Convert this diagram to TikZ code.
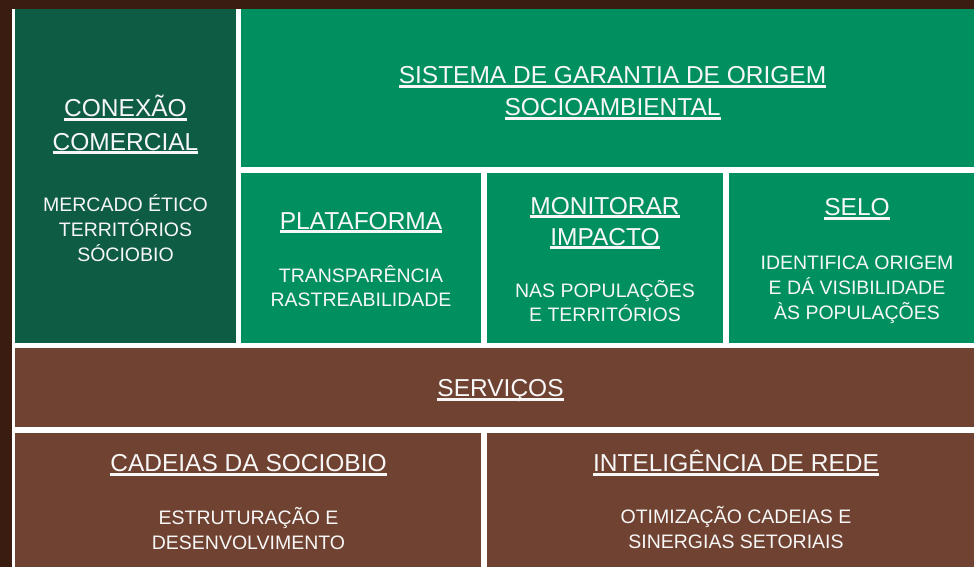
\documentclass[tikz,border=0pt]{standalone}
\usepackage{fontspec}
\setmainfont{Liberation Sans}
\definecolor{bgbrown}{HTML}{3A1C10}
\definecolor{dkgreen}{HTML}{0F5C45}
\definecolor{brgreen}{HTML}{00905F}
\definecolor{boxbrown}{HTML}{704231}
\definecolor{txt}{HTML}{F7F7F7}
\newsavebox\hdbox
\newcommand{\hdul}[1]{\sbox\hdbox{#1}\rlap{\vrule height -1.3pt depth 4pt width \wd\hdbox}\usebox\hdbox}
\tikzset{
  hd/.style={font=\fontsize{24.5}{30}\selectfont, text=txt, anchor=base, inner sep=0pt},
  sb/.style={font=\fontsize{19.5}{24}\selectfont, text=txt, anchor=base, inner sep=0pt},
}
\begin{document}
\begin{tikzpicture}[x=1pt,y=-1pt]
\useasboundingbox (0,0) rectangle (974,567);
\fill[bgbrown] (0,0) rectangle (974,567);
\fill[white] (12,9) rectangle (974,567);
% boxes
\fill[dkgreen] (15,9) rectangle (236,342.5);
\fill[brgreen] (241,9) rectangle (974,167);
\fill[brgreen] (241,172.5) rectangle (481,342.5);
\fill[brgreen] (487,172.5) rectangle (723,342.5);
\fill[brgreen] (729,172.5) rectangle (974,342.5);
\fill[boxbrown] (15,348) rectangle (974,427);
\fill[boxbrown] (15,433) rectangle (481,567);
\fill[boxbrown] (487,433) rectangle (974,567);
% Conexao comercial
\node[hd] (conH1) at (125.5,116.7) {\hdul{CONEXÃO}};
\node[hd] (conH2) at (125.5,150) {\hdul{COMERCIAL}};
\node[sb] (conS1) at (125.5,211.5) {MERCADO ÉTICO};
\node[sb] (conS2) at (125.5,236.5) {TERRITÓRIOS};
\node[sb] (conS3) at (125.5,261) {SÓCIOBIO};
% Sistema
\node[hd] (sisH1) at (612.5,84) {\hdul{SISTEMA DE GARANTIA DE ORIGEM}};
\node[hd] (sisH2) at (612.5,116) {\hdul{SOCIOAMBIENTAL}};
% Plataforma
\node[hd] (plaH) at (361,229) {\hdul{PLATAFORMA}};
\node[sb] (plaS1) at (361,282.3) {TRANSPARÊNCIA};
\node[sb] (plaS2) at (361,306.7) {RASTREABILIDADE};
% Monitorar
\node[hd] (monH1) at (605,214) {\hdul{MONITORAR}};
\node[hd] (monH2) at (605,245) {\hdul{IMPACTO}};
\node[sb] (monS1) at (605,297.3) {NAS POPULAÇÕES};
\node[sb] (monS2) at (605,321.7) {E TERRITÓRIOS};
% Selo
\node[hd] (selH) at (857,215.7) {\hdul{SELO}};
\node[sb] (selS1) at (857,269) {IDENTIFICA ORIGEM};
\node[sb] (selS2) at (857,294.3) {E DÁ VISIBILIDADE};
\node[sb] (selS3) at (857,319.3) {ÀS POPULAÇÕES};
% Servicos
\node[hd] (serH) at (500.5,396.7) {\hdul{SERVIÇOS}};
% Cadeias
\node[hd] (cadH) at (248.5,471.7) {\hdul{CADEIAS DA SOCIOBIO}};
\node[sb] (cadS1) at (248.5,524.3) {ESTRUTURAÇÃO E};
\node[sb] (cadS2) at (248.5,549) {DESENVOLVIMENTO};
% Inteligencia
\node[hd] (intH) at (736,471.7) {\hdul{INTELIGÊNCIA DE REDE}};
\node[sb] (intS1) at (736,523.3) {OTIMIZAÇÃO CADEIAS E};
\node[sb] (intS2) at (736,548.3) {SINERGIAS SETORIAIS};
\end{tikzpicture}
\end{document}
